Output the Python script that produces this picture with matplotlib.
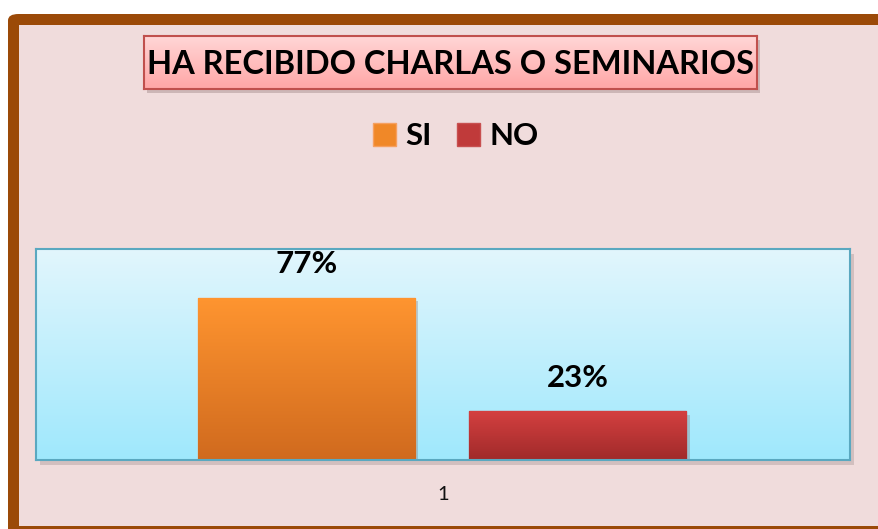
import numpy as np
import matplotlib
matplotlib.use("Agg")
import matplotlib.pyplot as plt
from matplotlib.patches import FancyBboxPatch, Rectangle
from matplotlib.colors import LinearSegmentedColormap

# ---- data ----
title = "HA RECIBIDO CHARLAS O SEMINARIOS"
series = ["SI", "NO"]
values = [77, 23]
category_labels = ["1"]

FONT = "Lato"
W, H = 879, 529
fig = plt.figure(figsize=(W / 100, H / 100), dpi=100)
fig.patch.set_facecolor("white")

def fx(px):
    return px / W

def fy(py):  # from top pixel to figure coord
    return 1 - py / H

# outer brown frame with rounded corner
frame = FancyBboxPatch((fx(8), fy(540)), fx(900), fy(14) - fy(540),
                       boxstyle="round,pad=0,rounding_size=0.012",
                       transform=fig.transFigure, facecolor="#9b4a08",
                       edgecolor="none", zorder=-3)
fig.patches.append(frame)
inner = Rectangle((fx(19), fy(526)), fx(900), fy(25) - fy(526),
                  transform=fig.transFigure, facecolor="#f0dcdc",
                  edgecolor="none", zorder=-2)
fig.patches.append(inner)

# ---- main axes ----
ax_l, ax_r, ax_t, ax_b = 36, 850, 249, 460
# shadow of plot area
fig.patches.append(Rectangle((fx(ax_l + 4), fy(ax_b + 5)), fx(ax_r - ax_l), fy(ax_t) - fy(ax_b),
                             transform=fig.transFigure, facecolor="#9a8a8a",
                             alpha=0.35, edgecolor="none", zorder=-1))
ax = fig.add_axes([fx(ax_l), fy(ax_b), fx(ax_r - ax_l), fy(ax_t) - fy(ax_b)])
ax.set_zorder(2)
ax.set_xlim(0.5, 1.5)
ax.set_ylim(0, 100)

bg_cmap = LinearSegmentedColormap.from_list("bg", ["#9fe8fd", "#e2f6fc"])
grad = np.linspace(0, 1, 256).reshape(-1, 1)
ax.imshow(grad, cmap=bg_cmap, origin="lower", aspect="auto",
          extent=[0.5, 1.5, 0, 100], zorder=0)

bar_w = 0.2666
offsets = [-0.1677, 0.1658]
mid_colors = ["#f08828", "#c03a3a"]
grad_colors = [("#d06a1e", "#ff9530"), ("#a02a2a", "#d44040")]
edge_colors = ["#f6a060", "#c85050"]

for i, (name, v) in enumerate(zip(series, values)):
    x = 1 + offsets[i]
    # shadow
    ax.bar(x + 0.004, v, bar_w, bottom=-1.5, color="#7a6a6a", alpha=0.3, zorder=1)
    bars = ax.bar(x, v, bar_w, color=mid_colors[i], edgecolor=edge_colors[i],
                  linewidth=1, label=name, zorder=2)
    cm = LinearSegmentedColormap.from_list("b%d" % i, list(grad_colors[i]))
    im = ax.imshow(grad, cmap=cm, origin="lower", aspect="auto",
                   extent=[x - bar_w / 2, x + bar_w / 2, 0, v], zorder=2.5)
    im.set_clip_path(bars[0])
    ax.annotate(f"{v}%", (x, v), xytext=(0, 24), textcoords="offset points",
                ha="center", va="center", fontsize=22.5, fontweight="bold",
                family=FONT, color="black", zorder=5)

ax.set_xlim(0.5, 1.5)
ax.set_ylim(0, 100)
ax.set_yticks([])
ax.set_xticks([1])
ax.set_xticklabels(category_labels, fontsize=14.5, family=FONT, color="#111111")
ax.tick_params(axis="x", length=0, pad=19)
for s in ax.spines.values():
    s.set_color("#5aa8c0")
    s.set_linewidth(1.5)
    s.set_zorder(6)

# ---- legend ----
leg = fig.legend(loc="center", bbox_to_anchor=(fx(456), fy(136)), ncol=2,
                 frameon=False, prop={"family": FONT, "weight": "bold", "size": 22.5},
                 handlelength=0.75, handleheight=0.75, handletextpad=0.3,
                 columnspacing=0.8)

# ---- title box ----
tb_l, tb_r, tb_t, tb_b = 144, 757, 36, 89
fig.patches.append(Rectangle((fx(tb_l + 3), fy(tb_b + 4)), fx(tb_r - tb_l), fy(tb_t) - fy(tb_b),
                             transform=fig.transFigure, facecolor="#8a7070",
                             alpha=0.35, edgecolor="none", zorder=-1))
tax = fig.add_axes([fx(tb_l), fy(tb_b), fx(tb_r - tb_l), fy(tb_t) - fy(tb_b)])
tax.set_zorder(2)
tcm = LinearSegmentedColormap.from_list("t", ["#ffa6a6", "#ffd6d6"])
tax.imshow(grad, cmap=tcm, origin="lower", aspect="auto", extent=[0, 1, 0, 1])
tax.set_xlim(0, 1)
tax.set_ylim(0, 1)
tax.set_xticks([])
tax.set_yticks([])
for s in tax.spines.values():
    s.set_color("#c0504d")
    s.set_linewidth(1.5)
tax.text(0.5, 0.47, title, ha="center", va="center", fontsize=23.5,
         fontweight="bold", family=FONT, color="black")

fig.savefig("out.png", dpi=100)
